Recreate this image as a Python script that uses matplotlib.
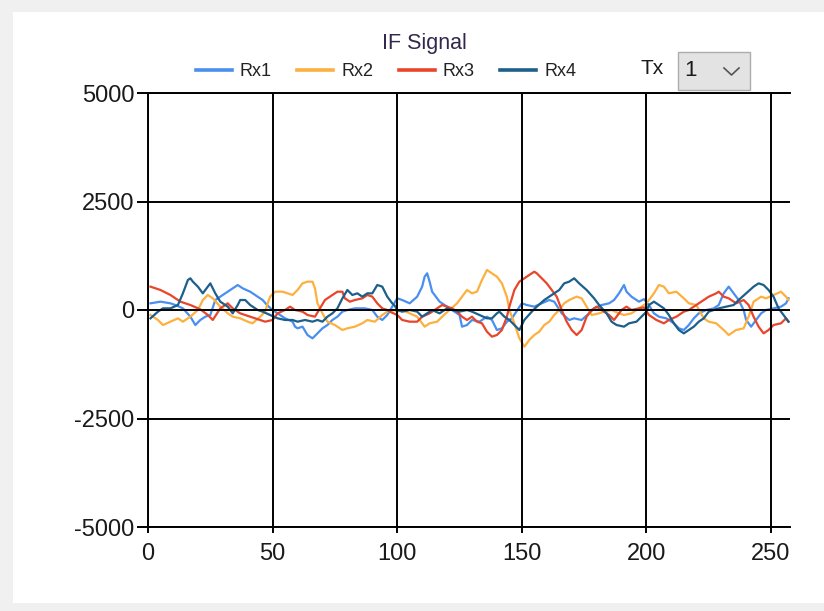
import matplotlib

matplotlib.use("Agg")
import matplotlib.pyplot as plt
from matplotlib.patches import Rectangle
from matplotlib.lines import Line2D

plt.rcParams["font.family"] = ["Liberation Sans", "DejaVu Sans"]
plt.rcParams["axes.unicode_minus"] = False

W, H = 824, 611

# sample index / amplitude pairs
RX1_X = [1, 5, 9, 11, 14, 17, 19, 21, 23, 25, 27, 30, 33, 36, 38, 41, 44, 46,
         48, 50, 52, 55, 58, 59, 60, 62, 64, 66, 68, 70, 72, 74, 76, 78, 80, 83,
         87, 90, 92, 94, 96, 98, 100, 102, 105, 108, 110, 111, 112, 113, 114,
         117, 120, 122, 125, 126, 128, 130, 133, 136, 138, 140, 142, 144, 146,
         148, 150, 152, 155, 158, 161, 163, 166, 169, 171, 174, 177, 179, 182,
         185, 187, 189, 191, 192, 194, 197, 199, 201, 203, 205, 208, 211, 213,
         215, 217, 219, 221, 224, 227, 229, 231, 233, 235, 237, 239, 240, 242,
         244, 246, 248, 251, 254, 256, 257]
RX1_Y = [154, 192, 154, 115, 38, -154, -346, -230, -154, -115, 230, 346, 461,
         576, 499, 422, 307, 230, 100, 0, -77, -192, -269, -384, -422, -384,
         -576, -653, -538, -422, -346, -230, -154, -38, 0, 38, 38, 0, -154,
         -230, -115, 77, 269, 230, 154, 307, 538, 768, 845, 653, 422, 192, 77,
         0, -115, -384, -346, -230, -269, -154, -230, -461, -422, -269, -192,
         -20, 154, 115, 77, 154, 230, 192, -77, -230, -192, -230, -77, 38, 115,
         154, 230, 384, 576, 422, 307, 192, 250, 115, -77, -154, -192, -307,
         -422, -461, -346, -192, -77, 0, 38, 115, 384, 538, 384, 230, 0, -230,
         -384, -230, -77, 0, 38, 77, 154, 269]

RX2_X = [1, 4, 6, 9, 12, 14, 17, 20, 22, 24, 26, 29, 32, 34, 37, 40, 42, 45,
         47, 48, 49, 51, 54, 56, 58, 60, 62, 64, 66, 67, 68, 70, 72, 75, 78, 80,
         83, 86, 88, 91, 94, 96, 99, 100, 102, 105, 108, 110, 111, 113, 116,
         118, 121, 124, 126, 128, 130, 132, 134, 136, 138, 140, 142, 144, 145,
         147, 149, 151, 153, 155, 157, 159, 161, 163, 165, 167, 169, 172, 174,
         176, 178, 181, 183, 186, 189, 191, 194, 197, 200, 203, 205, 207, 209,
         212, 215, 217, 220, 223, 225, 228, 231, 233, 236, 239, 241, 243, 246,
         248, 251, 254, 256, 257]
RX2_Y = [-115, -230, -346, -269, -192, -269, -154, 0, 230, 346, 269, 77, -77,
         -154, -192, -269, -307, -154, -38, 150, 307, 422, 422, 384, 346, 461,
         614, 653, 653, 499, 154, -77, -269, -346, -461, -422, -384, -307,
         -230, -269, -115, -38, 0, -38, 0, -77, -154, -307, -384, -307, -269,
         -154, 0, 154, 307, 461, 384, 422, 691, 922, 845, 768, 614, 307, 0,
         -307, -650, -845, -691, -576, -499, -346, -269, -115, 0, 154, 230,
         307, 269, 77, -115, -77, -38, 0, -77, -115, -77, 38, 154, 384, 576,
         538, 384, 422, 269, 154, 115, -192, -269, -307, -461, -576, -461,
         -422, -154, 192, 307, 269, 346, 422, 307, 230]

RX3_X = [1, 5, 9, 13, 17, 21, 24, 26, 29, 32, 34, 37, 41, 45, 47, 50, 52, 55,
         57, 59, 62, 64, 67, 69, 71, 74, 76, 78, 79, 81, 83, 86, 88, 90, 92, 94,
         96, 97, 100, 102, 105, 108, 110, 113, 116, 118, 120, 122, 124, 126,
         128, 130, 132, 134, 136, 138, 140, 142, 144, 145, 147, 149, 151, 153,
         155, 156, 158, 160, 162, 164, 166, 168, 170, 172, 174, 176, 178, 180,
         182, 185, 187, 190, 192, 194, 197, 199, 201, 204, 207, 209, 212, 215,
         217, 220, 223, 225, 228, 229, 231, 233, 236, 239, 241, 243, 245, 247,
         249, 251, 254, 256, 257]
RX3_Y = [538, 461, 346, 192, 115, 15, -115, -230, 38, 154, 38, -77, -154,
         -230, -269, -230, -77, 0, 77, 0, -38, -115, -154, 38, 230, 346, 422,
         422, 269, 192, 230, 269, 346, 307, 154, 38, 0, -38, -115, -230, -269,
         -269, -154, -77, 38, 115, 77, 38, -38, -154, -230, -154, -269, -307,
         -499, -614, -576, -461, -154, 77, 461, 653, 730, 807, 883, 845, 730,
         614, 461, 307, 0, -269, -461, -576, -461, -154, 0, 77, 0, -115, -230,
         0, 77, 0, 38, 60, -115, -230, -307, -230, -154, -38, 0, 115, 230,
         307, 384, 422, 307, 269, 154, 230, 115, -154, -384, -538, -461, -346,
         -307, -192, -269]

RX4_X = [1, 4, 6, 9, 12, 14, 16, 17, 18, 20, 22, 24, 25, 27, 29, 32, 34, 36,
         37, 39, 41, 44, 46, 49, 52, 55, 58, 60, 63, 66, 68, 70, 72, 74, 76, 78,
         80, 82, 84, 86, 88, 90, 92, 94, 96, 98, 99, 100, 102, 105, 108, 110,
         112, 114, 117, 120, 122, 125, 128, 130, 133, 136, 138, 140, 141, 143,
         145, 147, 149, 151, 154, 156, 159, 162, 165, 167, 169, 171, 173, 176,
         179, 181, 184, 186, 188, 191, 193, 196, 198, 200, 201, 203, 204, 205,
         207, 209, 211, 213, 215, 217, 219, 221, 223, 225, 227, 229, 232, 235,
         237, 240, 243, 245, 247, 249, 251, 253, 255, 257]
RX4_Y = [-192, -38, 38, 38, 115, 384, 691, 730, 653, 538, 384, 538, 614, 384,
         192, 77, -77, 115, 230, 230, 115, 0, -38, -115, -192, -230, -230,
         -269, -230, -269, -230, -269, -154, -77, 38, 269, 461, 346, 384, 307,
         384, 384, 576, 538, 307, 154, 100, 0, -38, 0, -38, -154, -77, 0, -77,
         38, 0, -38, 0, -38, -115, -192, -192, -77, -38, -154, -230, -346,
         -461, -230, -38, 77, 230, 346, 461, 614, 653, 730, 614, 461, 269, 115,
         -77, -269, -346, -384, -307, -269, -154, -40, 115, 192, 154, 115, 38,
         -115, -307, -461, -538, -461, -384, -269, -192, -38, 0, 38, 77, 115,
         230, 384, 538, 614, 576, 461, 307, 38, -115, -269]

SERIES = ["Rx1", "Rx2", "Rx3", "Rx4"]
COLORS = ["#4a8ff0", "#fdb03e", "#e8452a", "#1c5f8a"]
X_TICKS = [0, 50, 100, 150, 200, 250]
Y_TICKS = [-5000, -2500, 0, 2500, 5000]


def fx(px):
    return px / W


def fy(py):
    return 1 - py / H


fig = plt.figure(figsize=(W / 100, H / 100), dpi=100, facecolor="#f0f0f0")
fig.patches.append(Rectangle((fx(13), fy(603)), 1, fy(12) - fy(603),
                             transform=fig.transFigure, facecolor="white",
                             edgecolor="none", zorder=-10))

ax = fig.add_axes([fx(148), fy(527), fx(790) - fx(148), fy(93) - fy(527)])
ax.set_facecolor("white")

data = [(RX1_X, RX1_Y), (RX2_X, RX2_Y), (RX3_X, RX3_Y), (RX4_X, RX4_Y)]
for (xs, ys), name, c in zip(data, SERIES, COLORS):
    ax.plot(xs, ys, color=c, lw=1.6, label=name, zorder=2)

ax.set_xlim(0, 257.6)
ax.set_ylim(-5000, 5000)
ax.set_xticks(X_TICKS)
ax.set_yticks(Y_TICKS)
ax.set_axisbelow(False)
ax.grid(True, color="black", lw=1.4)
ax.spines["right"].set_visible(False)
for side in ["left", "bottom", "top"]:
    ax.spines[side].set_color("black")
    ax.spines[side].set_linewidth(1.4)
ax.tick_params(axis="y", direction="out", length=8, width=1.4, pad=2,
               labelsize=17, colors="black", labelcolor="#1a1a1a")
ax.tick_params(axis="x", direction="out", length=4.5, width=1.4, pad=7,
               labelsize=17, colors="black", labelcolor="#1a1a1a")

fig.text(fx(424), fy(44), "IF Signal", ha="center", va="center",
         fontsize=15.5, color="#33284a")

leg = fig.legend(loc="center", bbox_to_anchor=(fx(386), fy(72)), ncol=4,
                 frameon=False, fontsize=13, handlelength=2.0,
                 handletextpad=0.45, columnspacing=1.4, labelcolor="#222222")
for line in leg.get_lines():
    line.set_linewidth(2.6)

# Tx selector
fig.text(fx(652), fy(68), "Tx", ha="center", va="center", fontsize=15,
         color="#1a1a1a")
fig.patches.append(Rectangle((fx(678), fy(90)), fx(750) - fx(678), fy(52) - fy(90),
                             transform=fig.transFigure, facecolor="#e3e3e3",
                             edgecolor="#adadad", lw=1.0, zorder=3))
fig.text(fx(691), fy(70), "1", ha="center", va="center", fontsize=16,
         color="#1a1a1a", zorder=4)
fig.lines.append(Line2D([fx(724), fx(731.5), fx(739)], [fy(68), fy(75), fy(68)],
                        transform=fig.transFigure, color="#555555", lw=1.2,
                        zorder=4))

fig.savefig("out.png", dpi=100, facecolor=fig.get_facecolor())
